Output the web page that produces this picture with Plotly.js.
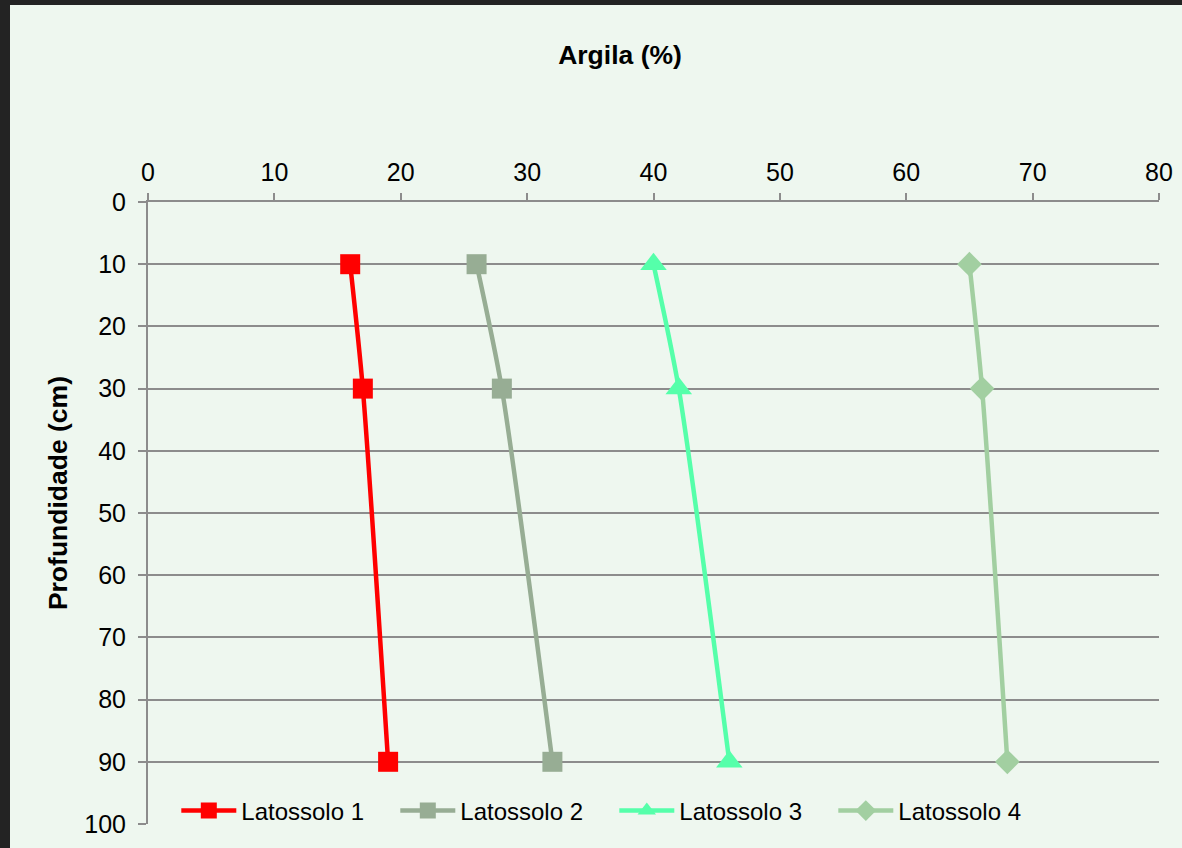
<!DOCTYPE html>
<html>
<head>
<meta charset="utf-8">
<script src="https://cdn.plot.ly/plotly-3.0.1.min.js"></script>
<style>
  html, body { margin: 0; padding: 0; background: #232323; width: 1182px; height: 848px; overflow: hidden; }
  #chart { position: absolute; left: 10px; top: 5px; width: 1172px; height: 843px; }
</style>
</head>
<body>
<div id="chart"></div>
<script>
// Clay content (%) by depth (cm) for four Latossolo profiles
const depths = [10, 30, 90];
const latossolo1 = [16, 17, 19];
const latossolo2 = [26, 28, 32];
const latossolo3 = [40, 42, 46];
const latossolo4 = [65, 66, 68];
const seriesNames = ['Latossolo 1', 'Latossolo 2', 'Latossolo 3', 'Latossolo 4'];
const xTicks = [0, 10, 20, 30, 40, 50, 60, 70, 80];
const yTicks = [0, 10, 20, 30, 40, 50, 60, 70, 80, 90, 100];

const styles = [
  { color: '#ff0000', symbol: 'square', size: 20 },
  { color: '#97ad94', symbol: 'square', size: 20 },
  { color: '#55ffaa', symbol: 'triangle-up', size: 23 },
  { color: '#a2cfa1', symbol: 'diamond', size: 19 }
];

const values = [latossolo1, latossolo2, latossolo3, latossolo4];
const traces = values.map((v, i) => ({
  type: 'scatter',
  mode: 'lines+markers',
  name: seriesNames[i],
  x: v,
  y: depths,
  line: { color: styles[i].color, width: 4.5, shape: 'spline', smoothing: 0.7 },
  marker: { color: styles[i].color, symbol: styles[i].symbol, size: styles[i].size }
}));

const font = 'Liberation Sans, Arial, sans-serif';
const layout = {
  width: 1172,
  height: 843,
  paper_bgcolor: '#eef7ef',
  plot_bgcolor: '#eef7ef',
  margin: { l: 138, r: 23, t: 197, b: 24 },
  font: { family: font, color: '#000000', size: 23 },
  showlegend: true,
  title: {
    text: '<b>Argila (%)</b>',
    font: { family: font, size: 26.5, color: '#000000' },
    x: 0.5205, xref: 'container', xanchor: 'center',
    y: 0.9407, yref: 'container', yanchor: 'middle'
  },
  xaxis: {
    side: 'top',
    range: [0, 80],
    tickvals: xTicks,
    ticktext: xTicks.map(String),
    showgrid: false,
    zeroline: false,
    showline: true,
    linecolor: '#8c8c8c',
    linewidth: 2,
    ticks: 'outside',
    ticklen: 7,
    tickwidth: 2,
    tickcolor: '#8c8c8c',
    ticklabelstandoff: 2,
    tickfont: { family: font, size: 25, color: '#000000' }
  },
  yaxis: {
    range: [100, 0],
    tickvals: yTicks,
    ticktext: yTicks.map(String),
    showgrid: true,
    gridcolor: '#8c8c8c',
    gridwidth: 2,
    zeroline: false,
    showline: true,
    linecolor: '#8c8c8c',
    linewidth: 2,
    ticks: 'outside',
    ticklen: 8,
    tickwidth: 2,
    tickcolor: '#8c8c8c',
    ticklabelstandoff: 7,
    tickfont: { family: font, size: 25, color: '#000000' }
  },
  legend: {
    orientation: 'h',
    x: 0.028, xanchor: 'left',
    y: 0.021, yanchor: 'middle',
    bgcolor: 'rgba(0,0,0,0)',
    itemwidth: 55,
    entrywidth: 149,
    tracegroupgap: 0,
    font: { family: font, size: 24, color: '#000000' }
  },
  annotations: [{
    text: '<b>Profundidade (cm)</b>',
    xref: 'paper', yref: 'paper',
    x: -0.089, y: 0.532,
    xanchor: 'center', yanchor: 'middle',
    textangle: -90,
    showarrow: false,
    font: { family: font, size: 26.5, color: '#000000' }
  }]
};

Plotly.newPlot('chart', traces, layout, { displayModeBar: false, staticPlot: true });
</script>
</body>
</html>
